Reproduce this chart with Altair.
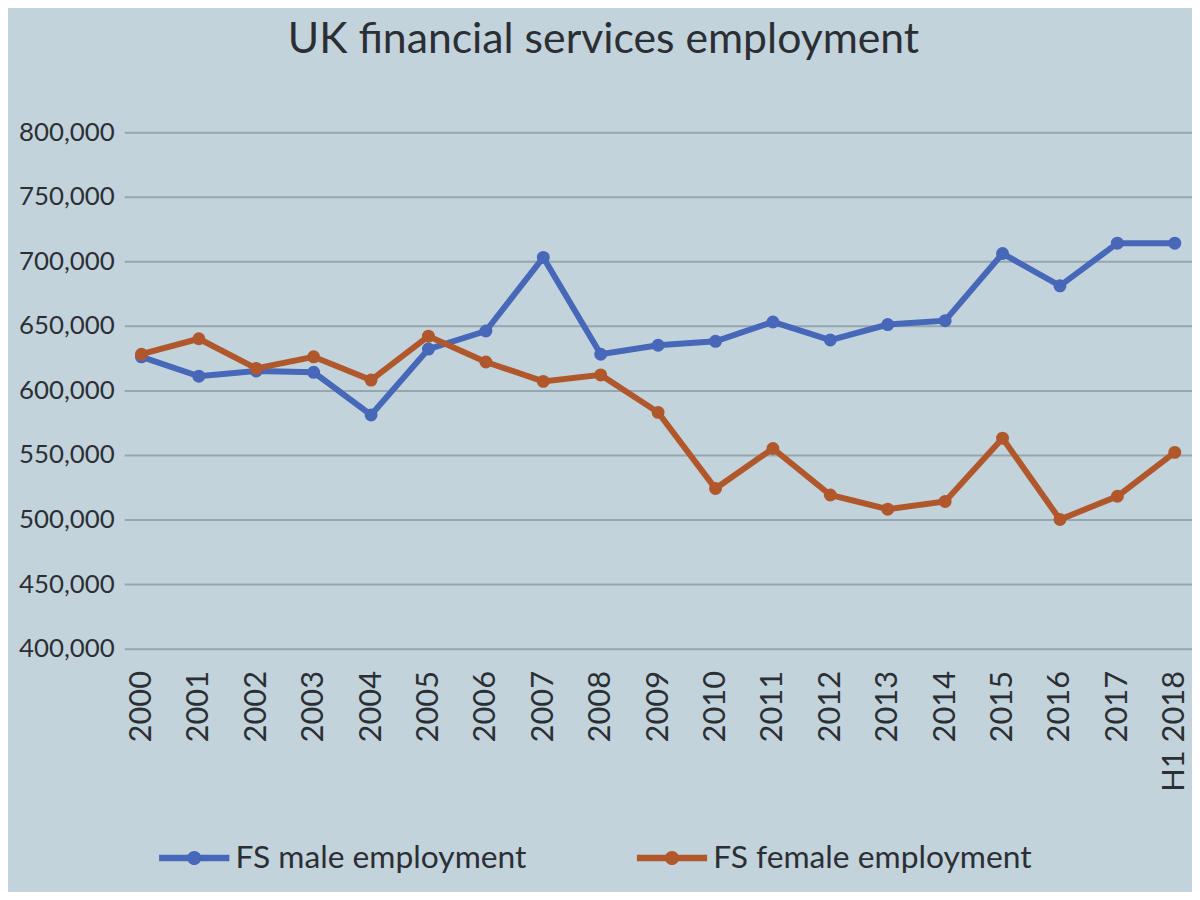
import altair as alt
import pandas as pd

years = ["2000", "2001", "2002", "2003", "2004", "2005", "2006", "2007", "2008", "2009",
         "2010", "2011", "2012", "2013", "2014", "2015", "2016", "2017", "H1 2018"]
male = [626000, 611000, 615000, 614000, 581000, 632000, 646000, 703000, 628000, 635000,
        638000, 653000, 639000, 651000, 654000, 706000, 681000, 714000, 714000]
female = [628000, 640000, 617000, 626000, 608000, 642000, 622000, 607000, 612000, 583000,
          524000, 555000, 519000, 508000, 514000, 563000, 500000, 518000, 552000]
series_names = ["FS male employment", "FS female employment"]
series_colors = ["#4767b8", "#b0582c"]
y_ticks = [400000, 450000, 500000, 550000, 600000, 650000, 700000, 750000, 800000]

rows = []
for name, vals in zip(series_names, [male, female]):
    for yr, v in zip(years, vals):
        rows.append({"year": yr, "value": v, "series": name})
df = pd.DataFrame(rows)

FONT = "Lato"
TXT = "#2b2f34"
legend_path = ("M-1,-0.09H1V0.09H-1Z "
               "M0.2,0A0.2,0.2 0 1,1 -0.2,0A0.2,0.2 0 1,1 0.2,0Z")

base = alt.Chart(df).encode(
    x=alt.X("year:N", sort=years, title=None,
            scale=alt.Scale(type="point", padding=0.3),
            axis=alt.Axis(labelAngle=-90, labelFontSize=31, labelFont=FONT,
                          labelColor=TXT, labelPadding=22, domain=False, ticks=False,
                          grid=False, labelAlign="right", labelBaseline="middle")),
    y=alt.Y("value:Q", title=None,
            scale=alt.Scale(domain=[400000, 800000], nice=False, zero=False),
            axis=alt.Axis(values=y_ticks, format=",.0f", labelFontSize=26, labelFont=FONT,
                          labelColor=TXT, labelPadding=10, domain=False, ticks=False,
                          grid=True, gridColor="#97a6ae", gridWidth=2)),
    color=alt.Color("series:N", sort=series_names,
                    scale=alt.Scale(domain=series_names, range=series_colors),
                    legend=alt.Legend(title=None, orient="none", direction="horizontal",
                                      legendX=35, legendY=695,
                                      symbolType=legend_path, symbolSize=5000,
                                      symbolStrokeWidth=0, symbolOpacity=1,
                                      labelFontSize=32, labelFont=FONT, labelColor=TXT,
                                      labelLimit=500, labelOffset=6, columnPadding=110)),
)

lines = base.mark_line(strokeWidth=6)
points = base.mark_point(filled=True, size=170, opacity=1)

chart = alt.layer(lines, points).properties(
    width=1075, height=520,
    title=alt.TitleParams("UK financial services employment", font=FONT, fontSize=43,
                          fontWeight="normal", color=TXT, offset=58, anchor="middle",
                          dx=-55),
    background="#c3d3dc",
    autosize=alt.AutoSizeParams(type="none"),
    padding={"left": 117, "top": 122, "right": 0, "bottom": 242},
).configure_view(stroke=None)

chart.save("out.html", embed_options={"renderer": "svg", "actions": False})
